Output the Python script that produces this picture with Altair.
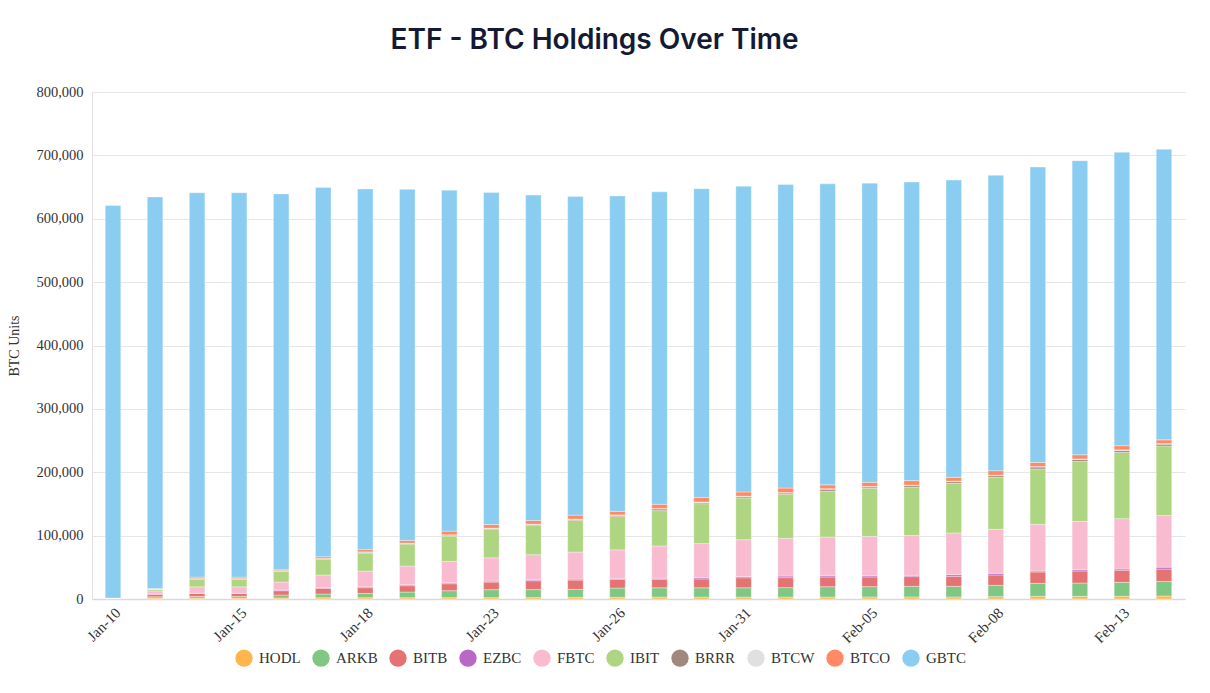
import altair as alt
import pandas as pd

# ===== data (BTC units) =====
dates = ["Jan-10", "Jan-11", "Jan-12", "Jan-15", "Jan-16", "Jan-17", "Jan-18", "Jan-19",
         "Jan-22", "Jan-23", "Jan-24", "Jan-25", "Jan-26", "Jan-29", "Jan-30", "Jan-31",
         "Feb-01", "Feb-02", "Feb-05", "Feb-06", "Feb-07", "Feb-08", "Feb-09", "Feb-12",
         "Feb-13", "Feb-14"]
tick_labels = ["Jan-10", "Jan-15", "Jan-18", "Jan-23", "Jan-26", "Jan-31", "Feb-05", "Feb-08", "Feb-13"]

HODL = [1500, 1500, 1500, 1500, 1600, 2000, 2000, 2000, 2100, 2100, 2200, 2600, 2600,
        3000, 3000, 3000, 3100, 3100, 3200, 3200, 3200, 3700, 4200, 4200, 4300, 4700]
ARKB = [0, 2000, 2500, 2500, 4700, 5800, 6800, 9000, 11000, 12600, 12600, 12600, 14700,
        14700, 14700, 14700, 14800, 16300, 16300, 16800, 16800, 17900, 20500, 21000, 22000, 23000]
BITB = [0, 4000, 4700, 4700, 6800, 9000, 9000, 10000, 11000, 12000, 14000, 14700, 13700,
        13000, 14000, 15800, 15800, 15300, 15300, 15300, 15800, 16300, 17900, 19000, 19000, 19500]
EZBC = [0, 500, 500, 500, 1000, 1000, 1500, 1500, 1500, 1500, 1500, 1500, 1500,
        2000, 2000, 2000, 2500, 2000, 2000, 2000, 2600, 2600, 1500, 2000, 2000, 3000]
FBTC = [0, 4700, 10000, 10000, 12600, 20000, 24700, 29500, 33700, 36800, 39500, 42600, 45000,
        51000, 53700, 58000, 59500, 61000, 62000, 63000, 65800, 69500, 73700, 76300, 79500, 81600]
IBIT = [0, 2600, 12000, 12000, 16800, 24700, 28400, 34700, 40000, 44700, 46300, 50000, 52600,
        55800, 63000, 66000, 69500, 72600, 76000, 76000, 78400, 82000, 87400, 94700, 104700, 109500]
BRRR = [0, 300, 800, 800, 800, 1000, 1500, 1000, 1500, 1500, 1500, 1500, 2000,
        2600, 2000, 2000, 2000, 3000, 2000, 2600, 2600, 2600, 3000, 3000, 3000, 3000]
BTCW = [0, 100, 200, 200, 300, 300, 400, 400, 500, 500, 500, 600, 600,
        600, 600, 700, 700, 700, 700, 700, 700, 700, 800, 800, 800, 800]
BTCO = [0, 700, 2300, 2300, 1600, 2700, 3600, 4300, 5800, 5800, 5800, 6200, 5700,
        6800, 7300, 6700, 7200, 6100, 6700, 7200, 6100, 7200, 6600, 6600, 6600, 6000]
GBTC = [619500, 618000, 606500, 606500, 593000, 583000, 569000, 554000, 538000, 524000,
        513500, 503000, 497500, 493000, 487000, 482500, 479000, 475000, 472000, 471000,
        469000, 466000, 466000, 464000, 463000, 458500]

series = ["HODL", "ARKB", "BITB", "EZBC", "FBTC", "IBIT", "BRRR", "BTCW", "BTCO", "GBTC"]
values = [HODL, ARKB, BITB, EZBC, FBTC, IBIT, BRRR, BTCW, BTCO, GBTC]
colors = ["#FFB74D", "#81C784", "#E57373", "#BA68C8", "#F8BBD0",
          "#AED581", "#A1887F", "#E0E0E0", "#FF8A65", "#8ACDF0"]

rows = []
for k, (name, vals) in enumerate(zip(series, values)):
    for d, v in zip(dates, vals):
        rows.append({"date": d, "etf": name, "btc": v, "idx": k})
df = pd.DataFrame(rows)

serif = "Liberation Serif"

chart = alt.Chart(df).mark_bar(stroke="white", strokeWidth=0.5, strokeOpacity=0.7).encode(
    x=alt.X("date:O", sort=dates, title=None,
            scale=alt.Scale(paddingInner=0.63, paddingOuter=0.315),
            axis=alt.Axis(values=tick_labels, labelAngle=-45, labelFont=serif, labelFontSize=15,
                          labelColor="#333333", ticks=False, domainColor="#d9d9d9",
                          domainWidth=1.5, labelPadding=6)),
    y=alt.Y("btc:Q", stack="zero", title="BTC Units",
            scale=alt.Scale(domain=[0, 800000]),
            axis=alt.Axis(values=list(range(0, 800001, 100000)), format=",.0f",
                          labelFont=serif, labelFontSize=14.5, labelColor="#333333",
                          titleFont=serif, titleFontSize=14, titleFontWeight="normal",
                          titleColor="#333333", titlePadding=14, ticks=False,
                          gridColor="#e6e6e6", domainColor="#e0e0e0", labelPadding=9)),
    color=alt.Color("etf:N", scale=alt.Scale(domain=series, range=colors),
                    legend=alt.Legend(title=None, orient="none", direction="horizontal",
                                      columns=10, legendX=143, legendY=557,
                                      symbolType="circle", symbolSize=300, symbolStrokeWidth=0,
                                      labelFont=serif, labelFontSize=15, labelColor="#333333",
                                      columnPadding=11, labelOffset=6)),
    order=alt.Order("idx:Q", sort="ascending"),
).properties(
    width=1093,
    height=507,
    autosize="none",
    padding={"left": 84, "top": 84, "right": 17, "bottom": 80},
    title=alt.TitleParams("ETF - BTC Holdings Over Time", font="Inter", fontSize=28,
                          fontWeight=600, color="#141a33", anchor="middle", dx=-44, offset=29),
).configure(background="white").configure_view(stroke=None)

chart.save("out.html", embed_options={"renderer": "svg", "actions": False})
